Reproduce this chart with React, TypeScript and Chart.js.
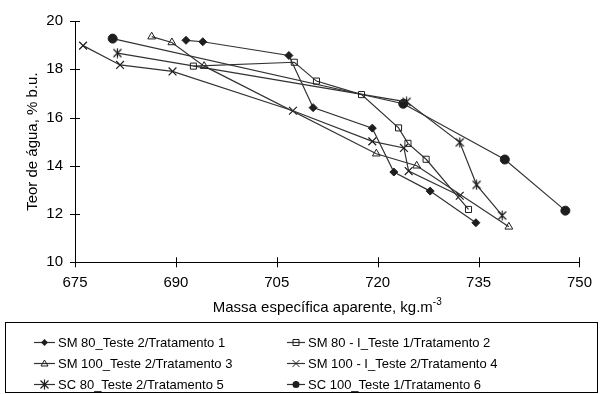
import React, { useEffect, useRef } from "react";
import { Chart, registerables } from "chart.js";
Chart.register(...registerables);

const xTicks = [675, 690, 705, 720, 735, 750];
const yTicks = [10, 12, 14, 16, 18, 20];

const names = [
  "SM 80_Teste 2/Tratamento 1",
  "SM 80 - I_Teste 1/Tratamento 2",
  "SM 100_Teste 2/Tratamento 3",
  "SM 100 - I_Teste 2/Tratamento 4",
  "SC 80_Teste 2/Tratamento 5",
  "SC 100_Teste 1/Tratamento 6",
];

const t1X = [691.5, 694.0, 706.8, 710.4, 719.2, 722.4, 727.8, 734.6];
const t1Y = [19.2, 19.14, 18.57, 16.41, 15.56, 13.74, 12.95, 11.64];
const t2X = [692.6, 707.6, 710.9, 717.6, 723.1, 724.5, 727.2, 733.5];
const t2Y = [18.13, 18.29, 17.51, 16.95, 15.57, 14.93, 14.27, 12.19];
const t3X = [686.4, 689.4, 694.2, 719.8, 725.8, 739.5];
const t3Y = [19.35, 19.11, 18.13, 14.5, 14.0, 11.47];
const t4X = [676.2, 681.7, 689.5, 707.4, 719.2, 723.9, 724.6, 732.2];
const t4Y = [18.98, 18.18, 17.91, 16.28, 15.01, 14.74, 13.78, 12.76];
const t5X = [681.3, 724.3, 732.2, 734.7, 738.5];
const t5Y = [18.67, 16.65, 14.97, 13.21, 11.94];
const t6X = [680.6, 723.8, 738.9, 747.9];
const t6Y = [19.27, 16.57, 14.26, 12.14];

const seriesX = [t1X, t2X, t3X, t4X, t5X, t6X];
const seriesY = [t1Y, t2Y, t3Y, t4Y, t5Y, t6Y];

const FONT = "'Liberation Sans', Arial, sans-serif";
const LINE = "#333333";
const MARK = "#1e1e1e";

function makeAsterisk(): HTMLCanvasElement {
  const c = document.createElement("canvas");
  c.width = 11;
  c.height = 11;
  const g = c.getContext("2d")!;
  g.strokeStyle = MARK;
  g.lineWidth = 1.2;
  g.beginPath();
  g.moveTo(1.5, 1.5);
  g.lineTo(9.5, 9.5);
  g.moveTo(9.5, 1.5);
  g.lineTo(1.5, 9.5);
  g.moveTo(5.5, 0.5);
  g.lineTo(5.5, 10.5);
  g.stroke();
  return c;
}

export default function App() {
  const ref = useRef<HTMLCanvasElement | null>(null);

  useEffect(() => {
    if (!ref.current) return;
    const star = makeAsterisk();
    const styles: any[] = [
      { pointStyle: "rectRot", radius: 4, bg: MARK, bw: 1 },
      { pointStyle: "rect", radius: 4.3, bg: "rgba(0,0,0,0)", bw: 1 },
      { pointStyle: "triangle", radius: 4.5, bg: "rgba(0,0,0,0)", bw: 1 },
      { pointStyle: "crossRot", radius: 5.5, bg: MARK, bw: 1.2 },
      { pointStyle: star, radius: 5, bg: MARK, bw: 1 },
      { pointStyle: "circle", radius: 4.5, bg: MARK, bw: 1 },
    ];

    const datasets = names.map((n, i) => ({
      label: n,
      data: seriesX[i].map((x, k) => ({ x, y: seriesY[i][k] })),
      showLine: true,
      borderColor: LINE,
      borderWidth: 1.2,
      pointStyle: styles[i].pointStyle,
      pointRadius: styles[i].radius,
      pointBackgroundColor: styles[i].bg,
      pointBorderColor: MARK,
      pointBorderWidth: styles[i].bw,
      fill: false,
      tension: 0,
    }));

    const drawMarker = (ctx: CanvasRenderingContext2D, i: number, x: number, y: number) => {
      ctx.save();
      ctx.strokeStyle = MARK;
      ctx.fillStyle = MARK;
      ctx.lineWidth = 1;
      ctx.beginPath();
      if (i === 0) {
        const r = 3.5;
        ctx.moveTo(x, y - r);
        ctx.lineTo(x + r, y);
        ctx.lineTo(x, y + r);
        ctx.lineTo(x - r, y);
        ctx.closePath();
        ctx.fill();
      } else if (i === 1) {
        ctx.rect(x - 3, y - 3, 6, 6);
        ctx.stroke();
      } else if (i === 2) {
        ctx.moveTo(x, y - 3.5);
        ctx.lineTo(x + 3.5, y + 2.5);
        ctx.lineTo(x - 3.5, y + 2.5);
        ctx.closePath();
        ctx.stroke();
      } else if (i === 3) {
        ctx.moveTo(x - 3.5, y - 3.5);
        ctx.lineTo(x + 3.5, y + 3.5);
        ctx.moveTo(x + 3.5, y - 3.5);
        ctx.lineTo(x - 3.5, y + 3.5);
        ctx.stroke();
      } else if (i === 4) {
        ctx.drawImage(star, x - 5.5, y - 5.5);
      } else {
        ctx.arc(x, y, 3.5, 0, Math.PI * 2);
        ctx.fill();
      }
      ctx.restore();
    };

    const overlay = {
      id: "overlay",
      afterDraw(chart: any) {
        const ctx: CanvasRenderingContext2D = chart.ctx;
        const xs = chart.scales.x;
        const ys = chart.scales.y;
        const area = chart.chartArea;
        ctx.save();
        ctx.strokeStyle = "#000";
        ctx.lineWidth = 1;
        ctx.beginPath();
        xTicks.forEach((v) => {
          const px = Math.round(xs.getPixelForValue(v)) + 0.5;
          ctx.moveTo(px, area.bottom - 5);
          ctx.lineTo(px, area.bottom + 5);
        });
        yTicks.forEach((v) => {
          const py = Math.round(ys.getPixelForValue(v)) + 0.5;
          ctx.moveTo(area.left - 5, py);
          ctx.lineTo(area.left + 5, py);
        });
        ctx.stroke();

        // x title with superscript
        ctx.fillStyle = "#000";
        ctx.textBaseline = "middle";
        const main = "Massa específica aparente, kg.m";
        const sup = "-3";
        ctx.font = `15px ${FONT}`;
        const w1 = ctx.measureText(main).width;
        ctx.font = `10px ${FONT}`;
        const w2 = ctx.measureText(sup).width;
        const cx = (area.left + area.right) / 2;
        const sx = cx - (w1 + w2) / 2;
        ctx.font = `15px ${FONT}`;
        ctx.textAlign = "left";
        ctx.fillText(main, sx, 308);
        ctx.font = `10px ${FONT}`;
        ctx.fillText(sup, sx + w1, 302);

        // y title
        ctx.save();
        ctx.translate(33, (area.top + area.bottom) / 2);
        ctx.rotate(-Math.PI / 2);
        ctx.font = `15px ${FONT}`;
        ctx.textAlign = "center";
        ctx.fillText("Teor de água, % b.u.", 0, 0);
        ctx.restore();

        // legend box
        ctx.strokeStyle = "#000";
        ctx.lineWidth = 1;
        ctx.strokeRect(5.5, 322.5, 592, 70);
        const rowsY = [342, 363, 384];
        const colLine = [
          [34, 55],
          [287, 305],
        ];
        ctx.font = `13px ${FONT}`;
        ctx.textAlign = "left";
        ctx.textBaseline = "middle";
        names.forEach((n, i) => {
          const col = i % 2;
          const row = Math.floor(i / 2);
          const y = rowsY[row];
          const [a, b] = colLine[col];
          ctx.strokeStyle = LINE;
          ctx.lineWidth = 1.2;
          ctx.beginPath();
          ctx.moveTo(a, y + 0.5);
          ctx.lineTo(b, y + 0.5);
          ctx.stroke();
          drawMarker(ctx, i, (a + b) / 2, y + 0.5);
          ctx.fillStyle = "#000";
          ctx.fillText(n, b + 3, y + 1);
        });
        ctx.restore();
      },
    };

    const chart = new Chart(ref.current, {
      type: "scatter",
      data: { datasets },
      options: {
        animation: false,
        responsive: false,
        maintainAspectRatio: false,
        layout: { padding: { left: 0, right: 15, top: 18, bottom: 0 } },
        plugins: { legend: { display: false }, tooltip: { enabled: false } },
        scales: {
          x: {
            type: "linear",
            min: 675,
            max: 750,
            afterBuildTicks: (s: any) => {
              s.ticks = xTicks.map((v) => ({ value: v }));
            },
            afterFit: (s: any) => {
              s.height = 131.7;
            },
            grid: { display: false, drawTicks: false },
            border: { display: true, color: "#000", width: 1 },
            ticks: {
              color: "#000",
              padding: 12,
              font: { family: FONT, size: 15 },
              maxRotation: 0,
              autoSkip: false,
            },
          },
          y: {
            type: "linear",
            min: 10,
            max: 20,
            afterBuildTicks: (s: any) => {
              s.ticks = yTicks.map((v) => ({ value: v }));
            },
            afterFit: (s: any) => {
              s.width = 75;
            },
            grid: { display: false, drawTicks: false },
            border: { display: true, color: "#000", width: 1 },
            ticks: {
              color: "#000",
              padding: 12,
              font: { family: FONT, size: 15 },
              autoSkip: false,
            },
          },
        },
      },
      plugins: [overlay],
    });
    return () => chart.destroy();
  }, []);

  return (
    <div style={{ position: "absolute", left: 0, top: 0, width: 604, height: 394, background: "#fff" }}>
      <canvas ref={ref} width={604} height={394} style={{ display: "block" }} />
    </div>
  );
}
